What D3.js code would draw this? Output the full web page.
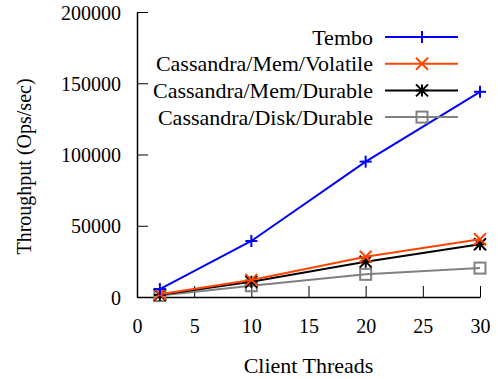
<!DOCTYPE html>
<html>
<head>
<meta charset="utf-8">
<script src="https://cdn.jsdelivr.net/npm/d3@7"></script>
<style>
  body { margin: 0; background: #fff; }
  svg text { font-family: "Liberation Serif", "Times New Roman", Times, "DejaVu Serif", serif; fill: #000; }
</style>
</head>
<body>
<svg id="chart" width="498" height="379"></svg>
<script>
// data
const threads = [2, 10, 20, 30];
const tembo = [5600, 39300, 95000, 144000];
const memVolatile = [2000, 12000, 28300, 40500];
const memDurable = [1500, 10700, 24800, 37000];
const diskDurable = [1000, 7900, 15900, 20300];
const xTicks = [0, 5, 10, 15, 20, 25, 30];
const yTicks = [0, 50000, 100000, 150000, 200000];

const series = [
  { name: 'Tembo', values: tembo, color: '#0000ff', marker: 'plus' },
  { name: 'Cassandra/Mem/Volatile', values: memVolatile, color: '#ff4500', marker: 'cross' },
  { name: 'Cassandra/Mem/Durable', values: memDurable, color: '#000000', marker: 'star' },
  { name: 'Cassandra/Disk/Durable', values: diskDurable, color: '#808080', marker: 'square' },
];

const serif = '"Liberation Serif", "Times New Roman", Times, serif';
const svg = d3.select('#chart');

const margin = { top: 12, right: 18, bottom: 82, left: 137 };
const width = 498;
const height = 379;
const chartWidth = width - margin.left - margin.right;
const chartHeight = height - margin.top - margin.bottom;

const g = svg.append('g').attr('transform', `translate(${margin.left},${margin.top})`);

const x = d3.scaleLinear().domain([0, 30]).range([0, chartWidth]);
const y = d3.scaleLinear().domain([0, 200000]).range([chartHeight, 0]);

//
// AXES (ticks point inwards)
//
const xAxis = g.append('g')
  .attr('transform', `translate(0,${chartHeight})`)
  .call(d3.axisBottom(x).tickValues(xTicks).tickFormat(d3.format('d'))
    .tickSize(-11).tickPadding(22).tickSizeOuter(0));

const yAxis = g.append('g')
  .call(d3.axisLeft(y).tickValues(yTicks).tickFormat(d3.format('d'))
    .tickSize(-11).tickPadding(16).tickSizeOuter(0));

[xAxis, yAxis].forEach((a) => {
  a.attr('font-family', null).attr('font-size', null);
  a.select('.domain').attr('stroke', '#000').attr('stroke-width', 1.5);
  a.selectAll('.tick line').attr('stroke', '#000').attr('stroke-width', 1);
  a.selectAll('.tick text')
    .style('font-size', '20px')
    .style('font-family', serif);
});
yAxis.selectAll('.tick text').attr('dy', '0.35em');

//
// AXIS LABELS
//
svg.append('text')
  .attr('x', margin.left + chartWidth / 2)
  .attr('y', 373)
  .attr('text-anchor', 'middle')
  .style('font-size', '22px')
  .style('font-family', serif)
  .text('Client Threads');

svg.append('text')
  .attr('transform', `translate(31,${margin.top + chartHeight / 2 + 12}) rotate(-90)`)
  .attr('text-anchor', 'middle')
  .style('font-size', '20px')
  .style('font-family', serif)
  .text('Throughput (Ops/sec)');

//
// MARKERS
//
function drawMarker(sel, type, color) {
  const s = 6;
  if (type === 'plus' || type === 'star') {
    sel.append('line').attr('x1', -s).attr('x2', s).attr('y1', 0).attr('y2', 0);
    sel.append('line').attr('x1', 0).attr('x2', 0).attr('y1', -s).attr('y2', s);
  }
  if (type === 'cross' || type === 'star') {
    sel.append('line').attr('x1', -s).attr('x2', s).attr('y1', -s).attr('y2', s);
    sel.append('line').attr('x1', -s).attr('x2', s).attr('y1', s).attr('y2', -s);
  }
  if (type === 'square') {
    sel.append('rect').attr('x', -s + 0.5).attr('y', -s + 0.5)
      .attr('width', 2 * s - 1).attr('height', 2 * s - 1).attr('fill', 'none');
  }
  sel.selectAll('*').attr('stroke', color).attr('stroke-width', 2);
}

//
// LINES
//
const line = d3.line()
  .x((d, i) => x(threads[i]))
  .y((d) => y(d));

series.slice().reverse().forEach((s) => {
  g.append('path')
    .datum(s.values)
    .attr('fill', 'none')
    .attr('stroke', s.color)
    .attr('stroke-width', 2)
    .attr('d', line);

  s.values.forEach((v, i) => {
    const m = g.append('g').attr('transform', `translate(${x(threads[i])},${y(v)})`);
    drawMarker(m, s.marker, s.color);
  });
});

//
// LEGEND
//
const legend = svg.append('g');
series.forEach((s, i) => {
  const ly = 37 + i * 26.7;
  legend.append('text')
    .attr('x', 373)
    .attr('y', ly)
    .attr('dy', '0.35em')
    .attr('text-anchor', 'end')
    .style('font-size', '22px')
    .style('font-family', serif)
    .text(s.name);
  legend.append('line')
    .attr('x1', 385).attr('x2', 458)
    .attr('y1', ly).attr('y2', ly)
    .attr('stroke', s.color).attr('stroke-width', 2);
  const m = legend.append('g').attr('transform', `translate(422,${ly})`);
  drawMarker(m, s.marker, s.color);
});
</script>
</body>
</html>
